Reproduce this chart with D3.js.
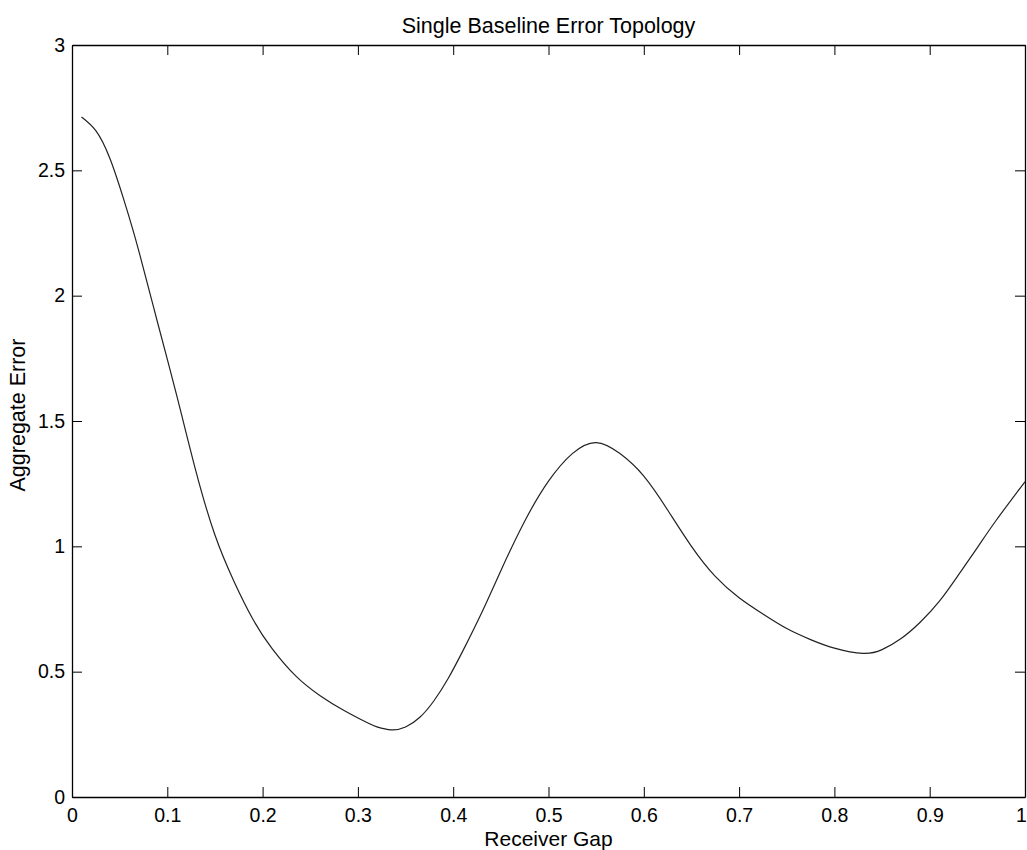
<!DOCTYPE html>
<html>
<head>
<meta charset="utf-8">
<script src="https://cdn.jsdelivr.net/npm/d3@7"></script>
<style>
  body { margin: 0; background: #fff; }
  text { font-family: "Liberation Sans", Arial, sans-serif; fill: #000; }
</style>
</head>
<body>
<svg id="chart"></svg>
<script>
// Receiver gap values (x)
const gap = [0.01, 0.025, 0.04, 0.055, 0.07, 0.09, 0.11, 0.13, 0.15, 0.17,
  0.19, 0.21, 0.235, 0.26, 0.285, 0.31, 0.32, 0.335, 0.35, 0.365,
  0.38, 0.395, 0.41, 0.43, 0.45, 0.475, 0.5, 0.525, 0.55, 0.575,
  0.6, 0.625, 0.65, 0.675, 0.7, 0.725, 0.75, 0.775, 0.8, 0.83,
  0.85, 0.87, 0.89, 0.91, 0.93, 0.95, 0.97, 1.0];
// Aggregate error values (y)
const error = [2.713, 2.658, 2.545, 2.375, 2.18, 1.89, 1.60, 1.30, 1.045, 0.86,
  0.708, 0.592, 0.482, 0.405, 0.346, 0.296, 0.28, 0.268, 0.279, 0.318,
  0.385, 0.475, 0.582, 0.736, 0.903, 1.10, 1.26, 1.37, 1.414, 1.37,
  1.28, 1.145, 1.0, 0.88, 0.795, 0.73, 0.672, 0.628, 0.594, 0.573,
  0.588, 0.632, 0.697, 0.78, 0.885, 0.995, 1.105, 1.258];
const xTicks = [0, 0.1, 0.2, 0.3, 0.4, 0.5, 0.6, 0.7, 0.8, 0.9, 1];
const yTicks = [0, 0.5, 1, 1.5, 2, 2.5, 3];

const width = 1027, height = 850;
const margin = { top: 45, right: 2, bottom: 53, left: 72 };
const w = width - margin.left - margin.right;
const h = height - margin.top - margin.bottom;

const svg = d3.select('#chart').attr('width', width).attr('height', height);

const x = d3.scaleLinear().domain([0, 1]).range([0, w]);
const y = d3.scaleLinear().domain([0, 3]).range([h, 0]);

const g = svg.append('g')
  .attr('transform', `translate(${margin.left},${margin.top})`);

const fmt = d => String(d);

// Bottom axis
const xb = g.append('g')
  .attr('transform', `translate(0,${h})`)
  .call(d3.axisBottom(x).tickValues(xTicks).tickFormat(fmt).tickSizeInner(-10).tickSizeOuter(0).tickPadding(11));
// Top axis (ticks only)
const xt = g.append('g')
  .call(d3.axisTop(x).tickValues(xTicks).tickFormat('').tickSizeInner(-10).tickSizeOuter(0));
// Left axis
const yl = g.append('g')
  .call(d3.axisLeft(y).tickValues(yTicks).tickFormat(fmt).tickSizeInner(-10).tickSizeOuter(0).tickPadding(7));
// Right axis (ticks only)
const yr = g.append('g')
  .attr('transform', `translate(${w},0)`)
  .call(d3.axisRight(y).tickValues(yTicks).tickFormat('').tickSizeInner(-10).tickSizeOuter(0));

[xb, xt, yl, yr].forEach(a => {
  a.select('.domain').attr('stroke', '#000').attr('stroke-width', 1.3);
  a.selectAll('.tick line').attr('stroke', '#000');
  a.selectAll('text').style('font-size', '19.5px').attr('fill', '#000')
    .style('font-family', '"Liberation Sans", Arial, sans-serif');
});
// keep the last x label inside the page
xb.selectAll('.tick text').filter(d => d === 1).attr('dx', -4);

// Curve
const points = gap.map((v, i) => [v, error[i]]);
g.append('path')
  .datum(points)
  .attr('fill', 'none')
  .attr('stroke', '#222')
  .attr('stroke-width', 1.2)
  .attr('d', d3.line()
    .x(d => x(d[0]))
    .y(d => y(d[1]))
    .curve(d3.curveNatural));

// Title
svg.append('text')
  .attr('x', margin.left + w / 2)
  .attr('y', 33)
  .attr('text-anchor', 'middle')
  .style('font-size', '21.5px')
  .text('Single Baseline Error Topology');

// X label
svg.append('text')
  .attr('x', margin.left + w / 2)
  .attr('y', 846)
  .attr('text-anchor', 'middle')
  .style('font-size', '21px')
  .text('Receiver Gap');

// Y label
svg.append('text')
  .attr('transform', `translate(25,415) rotate(-90)`)
  .attr('text-anchor', 'middle')
  .style('font-size', '21.5px')
  .text('Aggregate Error');
</script>
</body>
</html>
